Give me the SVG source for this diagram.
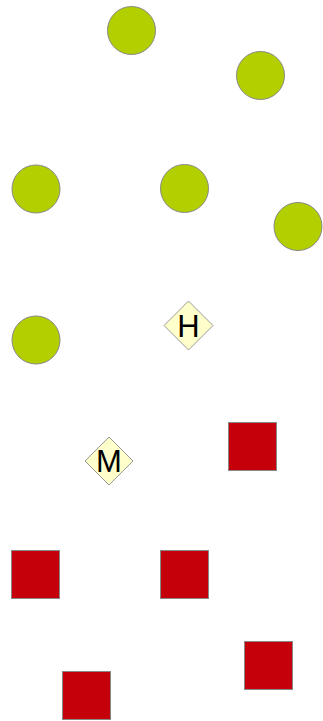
<svg xmlns="http://www.w3.org/2000/svg" width="323" height="721" viewBox="0 0 323 721">
<style>
.c{fill:#b3cf00;stroke:#888;stroke-width:1}
.d{fill:#ffffcc;stroke:#999;stroke-width:1}
.s{fill:#c5000b;stroke:#888;stroke-width:1}
.t{font-family:"Liberation Sans",Arial,sans-serif;font-size:31px;fill:#000;text-anchor:middle}
</style>
<rect width="323" height="721" fill="#fff"/>
<g id="connectors"></g>
<g id="n1"><circle class="c" cx="131.5" cy="30.5" r="24"/></g>
<g id="n2"><circle class="c" cx="260.5" cy="75.5" r="24"/></g>
<g id="n3"><circle class="c" cx="36" cy="189" r="24"/></g>
<g id="n4"><circle class="c" cx="184.5" cy="188.5" r="24"/></g>
<g id="n5"><circle class="c" cx="298" cy="226.5" r="24"/></g>
<g id="n6"><circle class="c" cx="36" cy="340" r="24"/></g>
<g id="n7"><polygon class="d" points="188.5,301 213,325.5 188.5,350 164,325.5"/><text class="t" x="188.5" y="336.5">H</text></g>
<g id="n8"><polygon class="d" points="109,437 133,461 109,485 85,461"/><text class="t" x="109" y="472">M</text></g>
<g id="n9"><rect class="s" x="228.5" y="422.5" width="48" height="48"/></g>
<g id="n10"><rect class="s" x="11.5" y="550.5" width="48" height="48"/></g>
<g id="n11"><rect class="s" x="160.5" y="550.5" width="48" height="48"/></g>
<g id="n12"><rect class="s" x="244.5" y="641.5" width="48" height="48"/></g>
<g id="n13"><rect class="s" x="62.5" y="671.5" width="48" height="48"/></g>
</svg>
